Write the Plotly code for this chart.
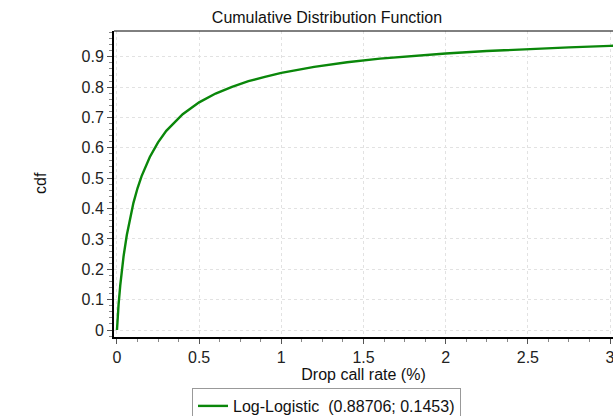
import plotly.graph_objects as go

# Values (Log-Logistic CDF, alpha=0.88706, beta=0.1453)
drop_rate = [0.0, 0.005, 0.01, 0.02, 0.04, 0.06, 0.08, 0.1, 0.125, 0.15, 0.2, 0.25, 0.3,
             0.4, 0.5, 0.6, 0.7, 0.8, 0.9, 1.0, 1.2, 1.4, 1.6, 1.8, 2.0, 2.25, 2.5, 2.75, 3.0, 3.05]
cdf_vals = [0.0, 0.048, 0.085, 0.147, 0.242, 0.313, 0.371, 0.418, 0.467, 0.507, 0.570, 0.618,
            0.656, 0.711, 0.750, 0.779, 0.801, 0.820, 0.834, 0.847, 0.867, 0.882, 0.894,
            0.903, 0.911, 0.919, 0.926, 0.931, 0.936, 0.937]
series_name = "Log-Logistic  (0.88706; 0.1453)"
x_ticks = [0, 0.5, 1, 1.5, 2, 2.5, 3]
y_ticks = [0, 0.1, 0.2, 0.3, 0.4, 0.5, 0.6, 0.7, 0.8, 0.9]

font_family = "Liberation Sans, Arial, sans-serif"
FS = 16

fig = go.Figure()
fig.add_trace(go.Scatter(x=drop_rate, y=cdf_vals, mode="lines", name=series_name,
                         line=dict(color="#0a870a", width=2.4), showlegend=True))

fig.update_layout(
    width=613, height=416,
    margin=dict(l=114, r=0, t=31, b=79, autoexpand=False),
    paper_bgcolor="white", plot_bgcolor="white",
    font=dict(family=font_family, size=FS, color="#222"),
    title=dict(text="Cumulative Distribution Function", x=327/613, xref="container",
               xanchor="center", y=1-17/416, yref="container", yanchor="middle",
               font=dict(size=FS, color="#111")),
    showlegend=True,
    legend=dict(orientation="h", x=326.5/613, xref="container", xanchor="center",
                y=1-388/416, yref="container",
                yanchor="top", bordercolor="#999", borderwidth=1, bgcolor="white",
                font=dict(size=FS, color="#111"), itemwidth=30),
)

fig.update_xaxes(range=[-0.018, 3.018], tickvals=x_ticks,
                 ticktext=[("%g" % v) for v in x_ticks], ticklabeloverflow="allow",
                 showline=True, linecolor="black", linewidth=2,
                 ticks="outside", ticklen=5, tickcolor="#555",
                 showgrid=True, gridcolor="#e2e2e2", griddash="dot", gridwidth=1,
                 zeroline=False, automargin=False,
                 minor=dict(dtick=0.125, tick0=0, ticks="outside", ticklen=3, tickcolor="#888", showgrid=False),
                 title=dict(text="Drop call rate (%)", standoff=2, font=dict(size=FS, color="#111")))
fig.update_yaxes(range=[-0.023, 0.985], tickvals=y_ticks,
                 ticktext=[("%g" % v) for v in y_ticks],
                 showline=True, linecolor="black", linewidth=2,
                 ticks="outside", ticklen=5, tickcolor="#555",
                 showgrid=True, gridcolor="#e2e2e2", griddash="dot", gridwidth=1,
                 zeroline=False, automargin=False,
                 minor=dict(dtick=0.02, tick0=0, ticks="outside", ticklen=3, tickcolor="#888", showgrid=False))

# top frame line
fig.add_shape(type="line", xref="paper", yref="paper", x0=0, x1=1, y0=1, y1=1,
              line=dict(color="black", width=1))

# y axis title placed far left as in the reference
fig.add_annotation(text="cdf", xref="paper", yref="paper", x=(40-114)/499, y=(337-183)/306,
                   xanchor="center", yanchor="middle", textangle=-90, showarrow=False,
                   font=dict(size=FS, color="#111"))

fig.write_html("out.html")
